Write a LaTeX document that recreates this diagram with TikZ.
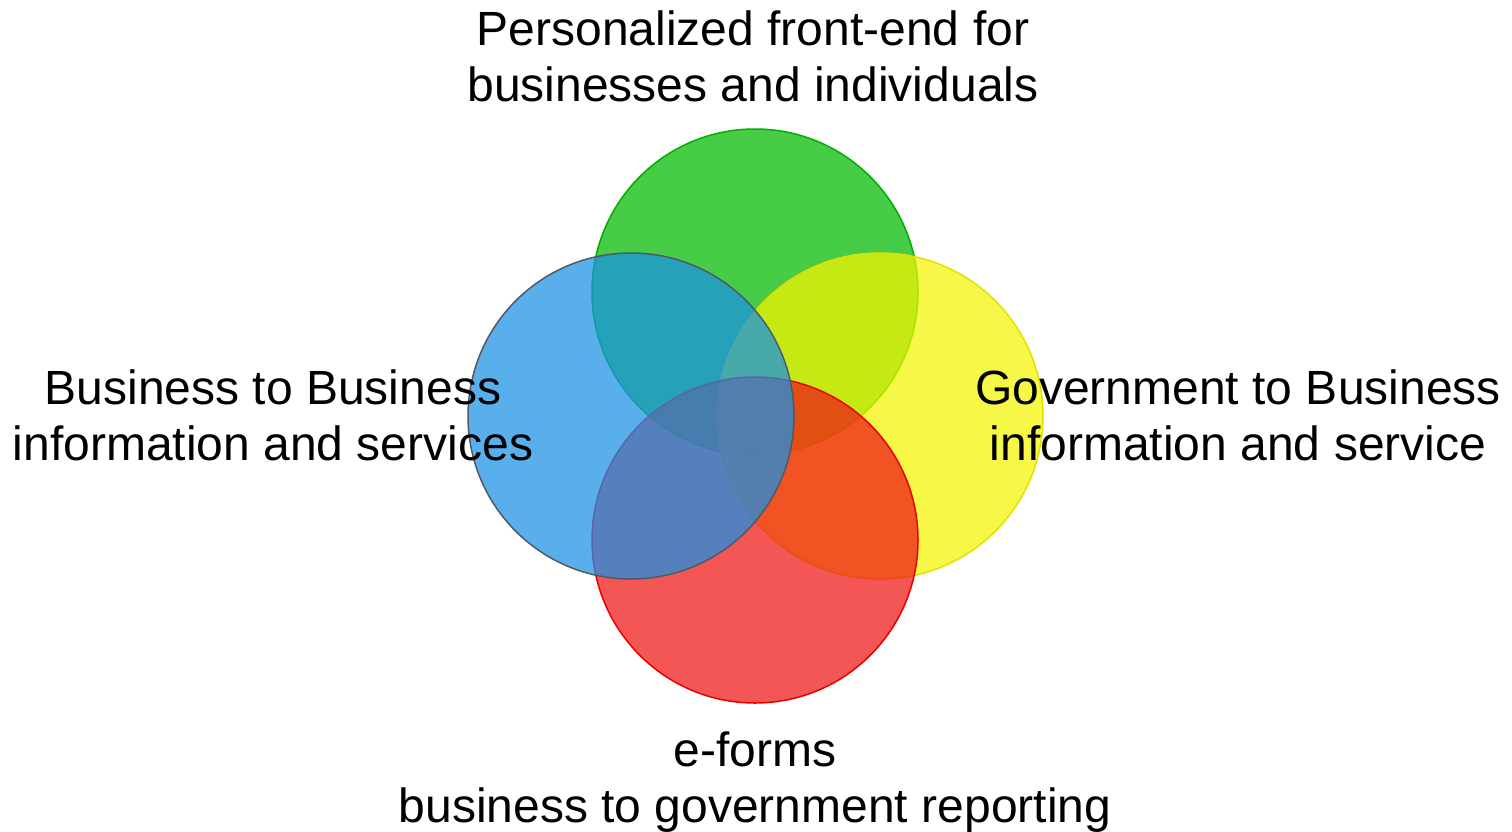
\documentclass[tikz,border=0pt]{standalone}
\usepackage{fontspec}
\setmainfont{Liberation Sans}
\definecolor{cgreen}{RGB}{0,185,0}
\definecolor{cgreenl}{RGB}{0,175,0}
\definecolor{cyellow}{RGB}{245,245,0}
\definecolor{cyellowl}{RGB}{225,225,0}
\definecolor{cred}{RGB}{240,20,20}
\definecolor{credl}{RGB}{235,0,0}
\definecolor{cblue}{RGB}{25,145,230}
\definecolor{cbluel}{RGB}{80,90,100}
\begin{document}
\begin{tikzpicture}[x=1pt,y=-1pt,
  venn/.style={line width=1.5pt,fill opacity=0.72},
  lbl/.style={align=center,inner sep=0pt,font=\fontsize{48}{56}\selectfont}]
\useasboundingbox (0,0) rectangle (1512,831);
\fill[white] (0,0) rectangle (1512,831);
\draw[venn,draw=cgreenl,fill=cgreen] (755,292) circle[radius=163];
\draw[venn,draw=cyellowl,fill=cyellow] (880,416) circle[radius=163];
\draw[venn,draw=credl,fill=cred] (755,540) circle[radius=163];
\draw[venn,draw=cbluel,fill=cblue] (631,416) circle[radius=163];
\node[lbl] (top) at (753,56.5) {Personalized front-end for\\businesses and individuals};
\node[lbl] (left) at (273,415) {Business to Business\\information and services};
\node[lbl] (right) at (1238,415) {Government to Business\\information and service};
\node[lbl] (bottom) at (755,782.5) {e-forms\\business to government reporting};
\end{tikzpicture}
\end{document}
